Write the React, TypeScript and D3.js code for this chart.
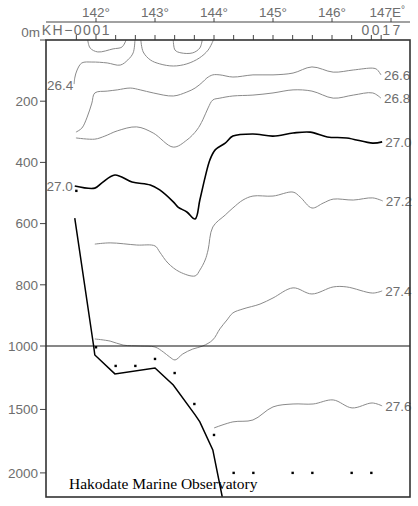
import React from "react";
import * as d3 from "d3";

type P = [number, number];

// station longitudes (KH-0001 ... 0017)
const stationLons = [141.667, 142.0, 142.333, 142.667, 143.0, 143.333, 143.667, 144.0, 144.333, 144.667, 145.0, 145.333, 145.667, 146.0, 146.333, 146.667, 146.833];
const stationFirst = "KH-0001";
const stationLast = "0017";

const lonTicks = [142, 143, 144, 145, 146, 147];
const depthTicks = [0, 200, 400, 600, 800, 1000, 1500, 2000];

// sigma-theta contours [lon, depth m]
const loopA: P[] = [[141.86, 0], [141.9, 26], [142.03, 39], [142.29, 29], [142.44, 23], [142.51, 0]];
const loopB: P[] = [[142.76, 0], [142.8, 39], [142.92, 65], [143.08, 78], [143.31, 85], [143.54, 78], [143.75, 59], [143.9, 33], [143.99, 0]];
const loopC: P[] = [[143.31, 0], [143.34, 33], [143.44, 42], [143.64, 42], [143.76, 26], [143.8, 0]];
const c264: P[] = [[142.66, 0], [142.63, 42], [142.54, 65], [142.41, 82], [142.19, 75], [141.93, 72], [141.76, 75], [141.68, 98], [141.64, 124], [141.63, 144]];
const c266: P[] = [[141.66, 301], [141.76, 288], [141.85, 252], [141.93, 206], [141.98, 173], [142.19, 167], [142.36, 163], [142.58, 157], [142.75, 163], [142.97, 173], [143.31, 183], [143.54, 170], [143.68, 157], [143.81, 137], [143.88, 124], [143.98, 114], [144.1, 114], [144.32, 121], [144.66, 114], [145.0, 114], [145.34, 108], [145.66, 88], [146.02, 105], [146.36, 98], [146.69, 92], [146.76, 96], [146.83, 114]];
const c268: P[] = [[141.66, 320], [141.98, 324], [142.15, 314], [142.36, 297], [142.69, 284], [142.97, 304], [143.31, 350], [143.54, 327], [143.71, 294], [143.81, 261], [143.9, 222], [143.98, 196], [144.1, 190], [144.32, 183], [144.66, 180], [145.0, 173], [145.34, 163], [145.66, 167], [146.02, 190], [146.36, 180], [146.69, 173], [146.83, 190]];
const c270: P[] = [[141.64, 477], [141.98, 484], [142.1, 467], [142.32, 441], [142.61, 464], [142.92, 474], [143.08, 490], [143.31, 529], [143.39, 546], [143.54, 562], [143.68, 585], [143.76, 523], [143.85, 448], [143.93, 392], [144.02, 359], [144.19, 337], [144.32, 314], [144.66, 307], [145.0, 314], [145.34, 304], [145.63, 301], [145.92, 317], [146.25, 320], [146.69, 337], [146.85, 333]];
const c272: P[] = [[141.98, 667], [142.24, 663], [142.69, 670], [143.0, 673], [143.08, 693], [143.22, 729], [143.42, 758], [143.68, 771], [143.76, 752], [143.85, 719], [143.9, 686], [143.98, 611], [144.19, 572], [144.32, 549], [144.49, 523], [144.66, 510], [145.0, 510], [145.34, 497], [145.46, 513], [145.66, 549], [145.85, 533], [146.02, 520], [146.36, 523], [146.69, 516], [146.86, 526]];
const c274: P[] = [[141.98, 977], [142.24, 984], [142.46, 997], [142.75, 1000], [143.0, 1008], [143.14, 1047], [143.25, 1087], [143.34, 1110], [143.47, 1063], [143.64, 1024], [143.81, 1000], [143.98, 980], [144.1, 944], [144.22, 915], [144.32, 892], [144.49, 879], [144.78, 863], [145.0, 843], [145.34, 810], [145.66, 830], [146.02, 807], [146.25, 807], [146.69, 827], [146.85, 820]];
const c276: P[] = [[144.0, 1646], [144.32, 1598], [144.66, 1583], [145.0, 1480], [145.34, 1457], [145.68, 1457], [146.02, 1425], [146.34, 1488], [146.68, 1449], [146.85, 1472]];

// bottom topography
const bottom: P[] = [[141.64, 582], [141.96, 1000], [141.98, 1071], [142.32, 1220], [143.0, 1173], [143.31, 1307], [143.68, 1543], [143.76, 1598], [143.98, 1819], [144.14, 2190]];

// deepest sampled points
const samples: P[] = [[141.667, 493], [142.0, 1010], [142.333, 1157], [142.667, 1157], [143.0, 1102], [143.333, 1213], [143.667, 1457], [144.0, 1701], [144.333, 2000], [144.667, 2000], [145.333, 2000], [145.667, 2000], [146.333, 2000], [146.667, 2000]];

const contours = [
  { pts: loopA, label: "", side: "", bold: false },
  { pts: loopB, label: "", side: "", bold: false },
  { pts: loopC, label: "", side: "", bold: false },
  { pts: c264, label: "26.4", side: "end", bold: false },
  { pts: c266, label: "26.6", side: "end", bold: false },
  { pts: c268, label: "26.8", side: "end", bold: false },
  { pts: c270, label: "27.0", side: "both", bold: true },
  { pts: c272, label: "27.2", side: "end", bold: false },
  { pts: c274, label: "27.4", side: "end", bold: false },
  { pts: c276, label: "27.6", side: "end", bold: false },
];

const L = 46, R = 410, T = 40, B = 497;

export default function App() {
  const x = d3.scaleLinear().domain([142, 147]).range([96, 391]);
  const y = d3.scaleLinear().domain([0, 1000, 2190]).range([T, 346, B]);
  const line = d3.line<P>().x((d) => x(d[0])).y((d) => y(d[1])).curve(d3.curveCatmullRom.alpha(0.5));
  const lineLin = d3.line<P>().x((d) => x(d[0])).y((d) => y(d[1]));
  const font = "'Liberation Sans', Arial, sans-serif";
  const gray = "#6e6e6e";

  return (
    <svg width={418} height={506} style={{ position: "absolute", left: 0, top: 0, background: "#fff" }}>
      <defs>
        <clipPath id="plot">
          <rect x={L} y={T} width={R - L} height={B - T} />
        </clipPath>
      </defs>
      {/* top longitude axis */}
      <line x1={L} x2={R} y1={22} y2={22} stroke="#444" strokeWidth={1.2} />
      {lonTicks.map((t) => (
        <g key={t}>
          <line x1={x(t)} x2={x(t)} y1={18} y2={22} stroke="#444" />
          {t < 147 ? (
            <text x={x(t)} y={17} textAnchor="middle" fontFamily={font} fontSize={13.5} fill={gray}>{t}°</text>
          ) : (
            <g>
              <text x={x(t) + 10} y={17} textAnchor="end" fontFamily={font} fontSize={13.5} fill={gray}>{t}E</text>
              <text x={x(t) + 12} y={13} textAnchor="middle" fontFamily={font} fontSize={10} fill={gray}>°</text>
            </g>
          )}
        </g>
      ))}
      {/* station ticks */}
      {stationLons.map((s, i) => (
        <line key={i} x1={x(s)} x2={x(s)} y1={T - 5} y2={T} stroke="#444" />
      ))}
      <text x={x(stationLons[0])} y={35} textAnchor="middle" fontFamily={font} fontSize={14} letterSpacing={1.5} fill={gray}>{stationFirst.replace("-", "\u2212")}</text>
      <text x={x(stationLons[stationLons.length - 1]) + 1} y={35} textAnchor="middle" fontFamily={font} fontSize={14} letterSpacing={2.5} fill={gray}>{stationLast}</text>

      {/* depth axis */}
      {depthTicks.map((d) => (
        <g key={d}>
          <line x1={L - 6} x2={L} y1={y(d)} y2={y(d)} stroke="#444" />
          {d === 0 ? (
            <text x={40} y={37} textAnchor="end" fontFamily={font} fontSize={13.5} fill={gray}>0m</text>
          ) : (
            <text x={38} y={y(d)} dy="0.35em" textAnchor="end" fontFamily={font} fontSize={13.5} fill={gray}>{d}</text>
          )}
        </g>
      ))}

      <g clipPath="url(#plot)">
        {contours.map((c, i) => (
          <path key={i} d={line(c.pts) || ""} fill="none" stroke={c.bold ? "#000" : "#8a8a8a"} strokeWidth={c.bold ? 1.6 : 1} />
        ))}
        <line x1={L} x2={R} y1={y(1000)} y2={y(1000)} stroke="#111" strokeWidth={1.2} />
        <path d={lineLin(bottom) || ""} fill="none" stroke="#000" strokeWidth={1.5} />
        {samples.map((p, i) => (
          <rect key={i} x={x(p[0]) - 1.2} y={y(p[1]) - 1.2} width={2.4} height={2.4} fill="#000" />
        ))}
      </g>

      {contours.filter((c) => c.label).map((c, i) => {
        const last = c.pts[c.pts.length - 1];
        const first = c.pts[0];
        const out = [];
        if (c.label === "26.4") {
          out.push(<text key="a" x={x(last[0]) - 1} y={y(last[1]) + 1} dy="0.35em" textAnchor="end" fontFamily={font} fontSize={13.5} fill={gray}>{c.label}</text>);
        } else {
          out.push(<text key="b" x={x(last[0]) + 3} y={y(last[1]) + 0.5} dy="0.35em" fontFamily={font} fontSize={13.5} fill={gray}>{c.label}</text>);
          if (c.side === "both") {
            out.push(<text key="c" x={x(first[0]) - 2} y={y(first[1])} dy="0.35em" textAnchor="end" fontFamily={font} fontSize={13.5} fill={gray}>{c.label}</text>);
          }
        }
        return <g key={i}>{out}</g>;
      })}

      <rect x={L} y={T} width={R - L} height={B - T} fill="none" stroke="#333" strokeWidth={1.6} />
      <text x={69} y={489} fontFamily="'Liberation Serif', 'Times New Roman', serif" fontSize={15.5} fill="#000">Hakodate Marine Observatory</text>
    </svg>
  );
}
